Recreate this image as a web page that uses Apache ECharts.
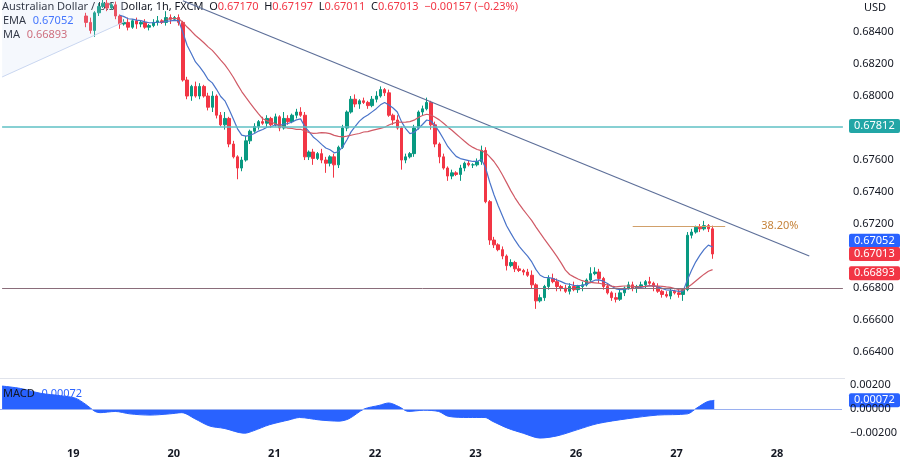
<!DOCTYPE html>
<html><head><meta charset="utf-8">
<script src="https://cdn.jsdelivr.net/npm/echarts@6/dist/echarts.min.js"></script>
<style>html,body{margin:0;padding:0;background:#fff}#c{width:900px;height:460px}</style>
</head><body><div id="c"></div>
<script>
const dayLabels = ['19','20','21','22','23','26','27','28'];
const priceTicks = [0.6640,0.6660,0.6680,0.6720,0.6740,0.6760,0.6800,0.6820,0.6840];
const macdTicks = [0.002,0,-0.002];
const firstT = 3;
const closes = [
0.6846,0.6841,0.6852,0.6856,0.6858,0.6855,0.6857,0.6850,0.6845,0.6846,
0.6843,0.6847,0.6845,0.6846,0.6843,0.6844,0.6846,0.6847,0.6846,0.6849,
0.6848,0.6849,0.6846,0.6810,0.6800,0.6806,0.6800,0.6806,0.6800,0.6793,
0.6800,0.6788,0.6782,0.6786,0.6770,0.6762,0.6755,0.6760,0.6772,0.6778,
0.6781,0.6784,0.6783,0.6786,0.6782,0.6787,0.6780,0.6786,0.6784,0.6788,
0.6790,0.6788,0.6762,0.6765,0.6761,0.6764,0.6760,0.6758,0.6762,0.6757,
0.6768,0.6780,0.6790,0.6798,0.6795,0.6797,0.6796,0.6794,0.6798,0.6800,
0.6804,0.6802,0.6788,0.6785,0.6780,0.6760,0.6762,0.6764,0.6780,0.6790,
0.6792,0.6796,0.6782,0.6770,0.6762,0.6755,0.6750,0.6752,0.6751,0.6755,
0.6758,0.6757,0.6757,0.6759,0.6766,0.6734,0.6710,0.6707,0.6704,0.6700,
0.6694,0.6696,0.6692,0.6691,0.6690,0.6688,0.6682,0.6672,0.6674,0.6681,
0.6686,0.6684,0.6681,0.6680,0.6678,0.6681,0.6679,0.6681,0.6682,0.6685,
0.6689,0.6690,0.6686,0.6681,0.6677,0.6674,0.6673,0.6677,0.6680,0.6682,
0.6680,0.6681,0.6682,0.6684,0.6683,0.6681,0.6678,0.6676,0.6675,0.6678,
0.6677,0.6676,0.6679,0.6713,0.6715,0.6718,0.6717,0.6719,0.6717,0.67013];
const firstOpen = 0.6850;
const lastOpen = 0.67170;
const wickUp = [
2,3,1,2,3,2,1,2,1,2, 3,1,2,1,2,1,2,3,1,4, 2,1,2,1,2,1,3,2,1,2,
3,1,2,4,1,2,1,2,3,1, 2,1,3,2,1,2,1,4,2,1, 2,3,2,1,2,1,3,2,1,2,
1,2,1,2,3,1,2,1,2,3, 2,1,2,1,3,1,2,1,2,1, 2,3,1,2,1,2,1,2,1,2,
1,2,1,2,3,2,1,2,1,2, 1,2,1,2,1,2,3,1,2,1, 2,3,2,1,2,2,3,1,2,1,
4,3,2,1,2,1,3,2,1,2, 2,1,2,1,3,1,2,1,2,2, 1,2,1,2,2,1,2,3,1,2,2];
const wickDn = [
3,2,4,2,1,2,1,2,3,1, 2,1,3,2,1,2,1,2,1,2, 3,1,2,1,2,3,1,2,1,2,
3,2,1,3,2,1,7,2,1,2, 1,2,1,3,2,1,2,1,2,1, 2,1,2,2,4,1,2,6,2,8,
2,1,2,1,2,3,1,2,1,2, 1,2,1,3,1,6,2,1,2,1, 2,1,3,2,4,1,3,2,1,4,
2,1,2,1,2,1,3,2,1,2, 3,1,2,1,2,1,2,5,1,2, 2,1,3,2,1,2,1,2,3,1,
2,1,3,2,1,2,2,1,2,1, 2,3,1,2,1,3,1,2,1,2, 1,2,4,1,2,1,2,1,2,3,2];
const macdPts = [
[-17,0.0019],[-12.6,0.0017],[-7.8,0.0013],[-3,0.0011],[0.5,0.0009],[2.9,0.0004],[5.2,-0.0002],
[6.4,-0.0003],[10,-0.0002],[13.5,-0.0004],[18.3,-0.0005],[23,-0.0004],[25.9,-0.0003],[29,-0.0008],
[32.5,-0.0014],[36,-0.0016],[40.9,-0.0020],[43,-0.0018],[46.8,-0.0013],[51.5,-0.0009],[54,-0.0007],
[58.7,-0.0009],[63.4,-0.0010],[65.8,-0.0008],[69.4,0.0000],[73,0.0003],[75.3,0.0005],[77.7,0.0002],
[80,-0.0002],[83.6,-0.0001],[87.2,-0.0002],[89.5,-0.0006],[94.3,-0.0007],[98.3,-0.0007],[100,-0.0010],
[103.8,-0.0016],[107.4,-0.0020],[111.4,-0.0024],[115.7,-0.0022],[120.4,-0.0017],[125.2,-0.0012],
[132.3,-0.0008],[139.4,-0.0005],[146.6,-0.0004],[148.9,0.0001],[151.3,0.0006],[153,0.00072]];
const tMin = -17, tMax = 183;
const levels = {teal:0.67806, base:0.6680, fib:0.67188};
const fibSpan = [133,155];
const trend = [[26,0.68595],[175,0.6700]];
const shade = [[-17,0.68119],[12,0.68463]];

const cats = []; for (let t=tMin;t<=tMax;t++) cats.push(String(t));
const ix = t => t - tMin;
const candle = cats.map(()=>'-');
closes.forEach((c,i)=>{
  const o = i===0?firstOpen:(i===closes.length-1?lastOpen:closes[i-1]);
  const h = Math.max(o,c)+wickUp[i]*0.0001, l = Math.min(o,c)-wickDn[i]*0.0001;
  candle[ix(firstT+i)] = [o,c,l,h];
});
const ema = cats.map(()=>'-'), ma = cats.map(()=>'-');
let e = closes[0]; const k = 2/10;
closes.forEach((c,i)=>{ e = i===0?c:c*k+e*(1-k); if(i>=8) ema[ix(firstT+i)]=+e.toFixed(5);
  if(i>=19){let s=0;for(let j=i-19;j<=i;j++)s+=closes[j]; ma[ix(firstT+i)]=+(s/20).toFixed(5);} });

const chart = echarts.init(document.getElementById('c'));
const font = 'Noto Sans';
const seg = (a,b,style,label) => [{coord:a},{coord:b,lineStyle:style,label:label||{show:false}}];
const L = ix(tMin), Rr = ix(tMax);
chart.setOption({
  animation:false,
  textStyle:{fontFamily:font},
  grid:[{left:0,right:55,top:0,height:378},{left:0,right:55,top:380,height:60}],
  xAxis:[
    {type:'category',data:cats,gridIndex:0,boundaryGap:true,axisLine:{show:false},axisTick:{show:false},axisLabel:{show:false},splitLine:{show:false}},
    {type:'value',gridIndex:1,min:tMin-0.5,max:tMax+0.5,axisLine:{show:false},axisTick:{show:false},splitLine:{show:false},
     axisLabel:{customValues:dayLabels.map((d,i)=>i*24),formatter:v=>dayLabels[Math.round(v/24)],color:'#131722',fontSize:11,fontWeight:'bold',margin:8}}
  ],
  yAxis:[
    {type:'value',gridIndex:0,position:'right',min:0.66238,max:0.6860,splitLine:{show:false},axisLine:{show:false},axisTick:{show:false},
     axisLabel:{customValues:priceTicks,formatter:v=>v.toFixed(5),color:'#131722',fontSize:11,margin:8}},
    {type:'value',gridIndex:1,position:'right',min:-0.00256,max:0.0024,splitLine:{show:false},axisLine:{show:false},axisTick:{show:false},
     axisLabel:{customValues:macdTicks,formatter:v=>(v<0?'−':'')+Math.abs(v).toFixed(5),color:'#131722',fontSize:11,margin:8}}
  ],
  series:[
    {type:'line',xAxisIndex:0,yAxisIndex:0,data:shade.map(p=>[ix(p[0]),p[1]]),symbol:'none',
     lineStyle:{color:'#c9d6f0',width:1},areaStyle:{origin:'end',color:'rgba(200,215,245,0.25)'},silent:true},
    {type:'candlestick',xAxisIndex:0,yAxisIndex:0,data:candle,barWidth:3,
     itemStyle:{color:'#089981',color0:'#f23645',borderColor:'#089981',borderColor0:'#f23645',borderWidth:1}},
    {type:'line',xAxisIndex:0,yAxisIndex:0,data:ema,symbol:'none',lineStyle:{color:'#4a74c9',width:1.2},z:3,
     markLine:{symbol:'none',silent:true,precision:6,label:{show:false},data:[
      seg([ix(trend[0][0]),trend[0][1]],[ix(trend[1][0]),trend[1][1]],{color:'#5d6f99',width:1.2,type:'solid'}),
      seg([L,levels.teal],[Rr,levels.teal],{color:'#5fc1c4',width:1.5,type:'solid'}),
      seg([L,levels.base],[Rr,levels.base],{color:'#8a6d7a',width:1,type:'solid'}),
      seg([ix(fibSpan[0]),levels.fib],[ix(fibSpan[1]),levels.fib],{color:'#d1a06a',width:1.2,type:'solid'},
        {show:true,position:'end',formatter:'38.20%',color:'#c6843c',fontSize:11,distance:36})
    ]}},
    {type:'line',xAxisIndex:0,yAxisIndex:0,data:ma,symbol:'none',lineStyle:{color:'#d05a66',width:1.2},z:3},
    {type:'line',xAxisIndex:1,yAxisIndex:1,data:macdPts,symbol:'none',smooth:0.3,lineStyle:{color:'#2962ff',width:1},
     areaStyle:{origin:0,color:'#2962ff',opacity:1},
     markLine:{symbol:'none',silent:true,label:{show:false},data:[{yAxis:0,lineStyle:{color:'#9ab0f0',width:1,type:'solid'}}]}}
  ]
});
const tag = (y,txt,bg) => ({type:'group',children:[
  {type:'rect',shape:{x:849,y:y-7,width:51,height:14,r:2},style:{fill:bg}},
  {type:'text',x:854,y:y,style:{text:txt,fill:'#fff',font:'11px "Noto Sans"',verticalAlign:'middle'}}]});
const R='#f23645';
const py = v => chart.convertToPixel({yAxisIndex:0},v);
const my = v => chart.convertToPixel({yAxisIndex:1},v);
chart.setOption({graphic:[
  {type:'rect',shape:{x:0,y:378,width:845,height:1},style:{fill:'#e0e3eb'}},
  {type:'text',left:2,top:1,style:{rich:{a:{fill:'#131722',fontSize:11,fontFamily:font},r:{fill:R,fontSize:11,fontFamily:font}},
    text:'{a|Australian Dollar / U.S. Dollar, 1h, FXCM  O}{r|0.67170}{a|  H}{r|0.67197}{a|  L}{r|0.67011}{a|  C}{r|0.67013}{r|  −0.00157 (−0.23%)}'}},
  {type:'text',left:3,top:15,style:{rich:{a:{fill:'#131722',fontSize:11,fontFamily:font},b:{fill:'#2962ff',fontSize:11,fontFamily:font}},text:'{a|EMA}  {b|0.67052}'}},
  {type:'text',left:3,top:29,style:{rich:{a:{fill:'#131722',fontSize:11,fontFamily:font},b:{fill:'#d05a66',fontSize:11,fontFamily:font}},text:'{a|MA}  {b|0.66893}'}},
  {type:'text',left:3,top:388,z:10,style:{rich:{a:{fill:'#131722',fontSize:11,fontFamily:font},b:{fill:'#2962ff',fontSize:11,fontFamily:font}},text:'{a|MACD}  {b|0.00072}'}},
  {type:'text',left:864,top:2,style:{text:'USD',fill:'#131722',font:'11px "Noto Sans"'}},
  tag(py(0.67812),'0.67812','#22a6a6'),
  tag(py(0.67052)-7,'0.67052','#2962ff'),
  tag(py(0.67013),'0.67013',R),
  tag(py(0.66893),'0.66893',R),
  tag(my(0.00072),'0.00072','#2962ff')
]});
</script></body></html>
